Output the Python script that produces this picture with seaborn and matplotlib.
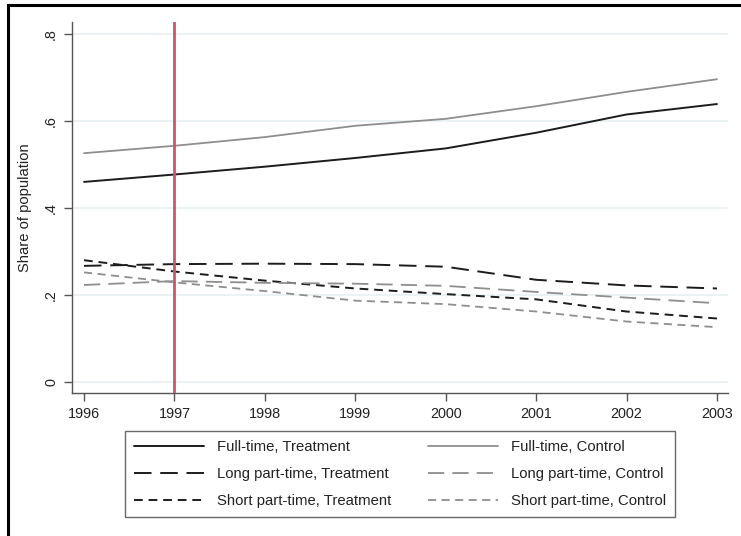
import matplotlib
matplotlib.use("Agg")
import matplotlib.pyplot as plt
import seaborn as sns
import pandas as pd
from matplotlib.patches import Rectangle

sns.set_theme(style="white")
plt.rcParams['font.family'] = ['Liberation Sans', 'DejaVu Sans']

years = [1996, 1997, 1998, 1999, 2000, 2001, 2002, 2003]
full_treat = [0.460, 0.477, 0.495, 0.515, 0.537, 0.573, 0.615, 0.639]
full_ctrl = [0.526, 0.543, 0.563, 0.589, 0.605, 0.634, 0.667, 0.696]
long_treat = [0.267, 0.271, 0.272, 0.271, 0.265, 0.235, 0.222, 0.215]
long_ctrl = [0.223, 0.232, 0.228, 0.226, 0.221, 0.207, 0.194, 0.181]
short_treat = [0.280, 0.254, 0.233, 0.215, 0.202, 0.190, 0.162, 0.146]
short_ctrl = [0.252, 0.229, 0.209, 0.187, 0.179, 0.162, 0.139, 0.126]

series_labels = ["Full-time, Treatment", "Long part-time, Treatment", "Short part-time, Treatment",
                 "Full-time, Control", "Long part-time, Control", "Short part-time, Control"]
series_values = [full_treat, long_treat, short_treat, full_ctrl, long_ctrl, short_ctrl]
ytick_vals = [0, 0.2, 0.4, 0.6, 0.8]
ytick_labels = ["0", ".2", ".4", ".6", ".8"]
ylabel = "Share of population"
reform_year = 1997

BLACK = '#1c1c1c'
GRAY = '#8e8e8e'
styles = [
    (BLACK, (None, None), 1.4),
    (BLACK, (9, 4.5), 1.4),
    (BLACK, (4.5, 3), 1.4),
    (GRAY, (None, None), 1.3),
    (GRAY, (9, 4.5), 1.3),
    (GRAY, (4.5, 3), 1.3),
]

W, H = 741, 536
fig = plt.figure(figsize=(W / 100, H / 100), dpi=100)
ax = fig.add_axes([72 / W, 1 - 393 / H, (728 - 72) / W, (393 - 22) / H])

for lab, vals, (col, dash, lw) in zip(series_labels, series_values, styles):
    df = pd.DataFrame({"year": years, "share": vals})
    sns.lineplot(data=df, x="year", y="share", ax=ax, color=col, linewidth=lw, label=lab)
    line = ax.get_lines()[-1]
    if dash[0] is None:
        line.set_linestyle('-')
    else:
        line.set_dashes(dash)

ax.axvline(reform_year, color='#c9566a', linewidth=2.0, zorder=5)

ax.set_xlim(1995.867, 2003.122)
ax.set_ylim(-0.0253, 0.8276)
ax.set_xticks(years)
ax.set_xticklabels([str(y) for y in years], fontsize=10.4, color='#222222')
ax.set_yticks(ytick_vals)
ax.set_yticklabels(ytick_labels, fontsize=10.4, rotation=90, va='center', color='#222222')
ax.set_xlabel("")
ax.set_ylabel(ylabel, fontsize=10.6, color='#222222', labelpad=9)

for y in ytick_vals:
    ax.axhline(y, color='#e8f0f2', linewidth=1.2, zorder=0)

for s in ['top', 'right']:
    ax.spines[s].set_visible(False)
for s in ['left', 'bottom']:
    ax.spines[s].set_color('#555555')
    ax.spines[s].set_linewidth(1.0)
ax.tick_params(axis='both', which='both', direction='out', length=6, width=1.0,
               color='#555555', left=True, bottom=True, pad=4)

ax.get_legend().remove()
handles, labels = ax.get_legend_handles_labels()
leg = fig.legend(handles[:6], labels[:6], ncol=2, loc='upper left',
                 bbox_to_anchor=(125 / W, 1 - 431 / H),
                 fontsize=10.7, frameon=True, fancybox=False,
                 handlelength=4.7, handletextpad=0.87, borderpad=0.62,
                 labelspacing=0.86, columnspacing=2.45, borderaxespad=0)
frame = leg.get_frame()
frame.set_edgecolor('#444444')
frame.set_linewidth(1.0)
for t in leg.get_texts():
    t.set_color('#222222')

fig.patches.append(Rectangle((8 / W, -0.1), 1.2, 1 - 5 / H + 0.1, transform=fig.transFigure,
                             fill=False, edgecolor='black', linewidth=2.2, zorder=10))

fig.savefig("out.png", dpi=100)
